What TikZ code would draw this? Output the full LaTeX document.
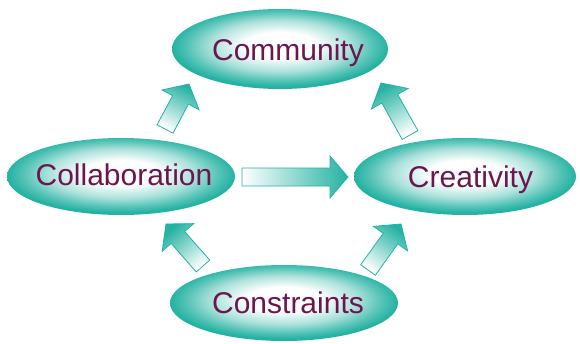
\documentclass[tikz,border=0pt]{standalone}
\usepackage{fontspec}
\setmainfont{Liberation Sans}
\usetikzlibrary{shapes.geometric,calc}

\definecolor{blobteal}{RGB}{36,178,162}
\definecolor{blobplum}{RGB}{108,22,80}

\pgfdeclareradialshading{blobshading}{\pgfpoint{0bp}{3bp}}{%
  color(0bp)=(white); color(8bp)=(white); color(16bp)=(blobteal!38);
  color(21.5bp)=(blobteal!78); color(25bp)=(blobteal); color(50bp)=(blobteal)}

% tail, tip, shading angle
\newcommand\blockarrow[3]{%
  \coordinate (#2-base) at ($(#2)!18pt!(#1)$);
  \path[block arrow,shading angle=#3]
    ($(#1)!9pt!90:(#2)$) -- ($(#2-base)!9pt!90:(#2)$)
    -- ($(#2-base)!21pt!90:(#2)$) -- (#2)
    -- ($(#2-base)!21pt!-90:(#2)$) -- ($(#2-base)!9pt!-90:(#2)$)
    -- ($(#1)!9pt!-90:(#2)$) -- cycle;
}

\begin{document}
\begin{tikzpicture}[x=1pt,y=1pt,
    blob/.style={ellipse,shading=blobshading,inner sep=0pt},
    blob text/.style={font=\fontsize{30}{36}\selectfont,text=blobplum,
      text height=21.5pt,text depth=0pt,inner sep=0pt},
    block arrow/.style={draw=blobteal,line width=0.8pt,
      top color=white,bottom color=blobteal}]

  \useasboundingbox (0,0) rectangle (580,343);

  \node[blob,minimum width=216pt,minimum height=80pt,
    label={[blob text,xshift=8pt,yshift=-1pt]center:Community}] (community) at (280,294) {};
  \node[blob,minimum width=228pt,minimum height=77pt,
    label={[blob text,xshift=3pt,yshift=1.5pt]center:Collaboration}] (collaboration) at (121,166.5) {};
  \node[blob,minimum width=222pt,minimum height=77pt,
    label={[blob text,xshift=5.5pt]center:Creativity}] (creativity) at (465,166.5) {};
  \node[blob,minimum width=228pt,minimum height=76pt,
    label={[blob text,xshift=4pt]center:Constraints}] (constraints) at (284,40) {};

  % arrow ends
  \coordinate (t1) at (165,214); \coordinate (h1) at (189,259);
  \coordinate (t2) at (410,208); \coordinate (h2) at (381,260);
  \coordinate (t3) at (203,77);  \coordinate (h3) at (166,119);
  \coordinate (t4) at (368,73);  \coordinate (h4) at (401,119);
  \coordinate (t5) at (242,166); \coordinate (h5) at (348,166);

  \blockarrow{t1}{h1}{152}
  \blockarrow{t2}{h2}{209}
  \blockarrow{t3}{h3}{221}
  \blockarrow{t4}{h4}{144}
  \blockarrow{t5}{h5}{90}
\end{tikzpicture}
\end{document}
